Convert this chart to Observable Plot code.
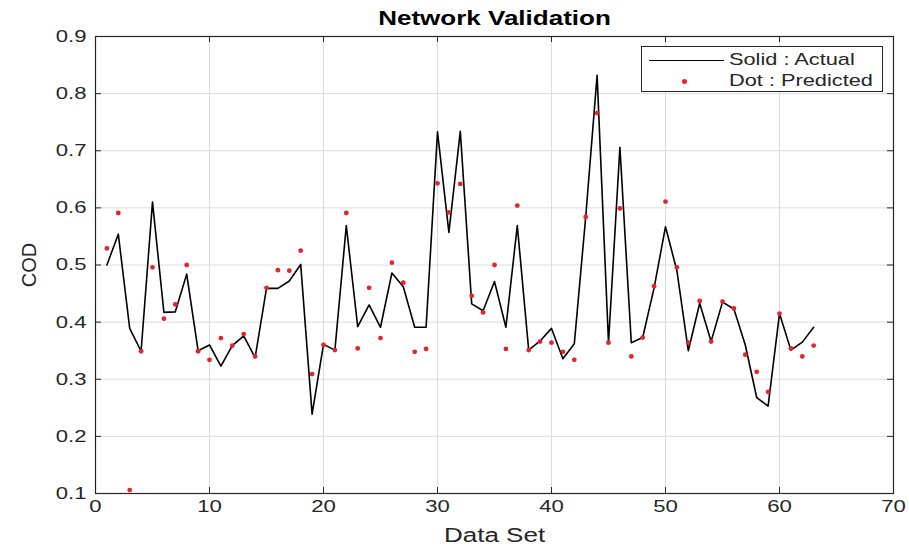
<!DOCTYPE html>
<html>
<head>
<meta charset="utf-8">
<script src="https://cdn.jsdelivr.net/npm/d3@7"></script>
<script src="https://cdn.jsdelivr.net/npm/@observablehq/plot@0.6"></script>
<style>
  html, body { margin: 0; padding: 0; background: #fff; }
  #wrap { position: relative; width: 909px; height: 548px; font-family: "Liberation Sans", Arial, sans-serif; color: #262626; }
  #legend { position: absolute; left: 641px; top: 46px; width: 240px; height: 44px; border: 1px solid #262626; background: #fff; }
  #legend .ln { position: absolute; left: 7px; top: 13px; width: 75px; border-top: 1.4px solid #000; }
  #legend .dt { position: absolute; left: 40px; top: 32px; width: 5px; height: 5px; border-radius: 50%; background: #e3242b; }
  #legend .tx { position: absolute; left: 87px; font-size: 17px; line-height: 20px; white-space: nowrap; color: #262626; transform: scaleX(1.28); transform-origin: left center; }
</style>
</head>
<body>
<div id="wrap"></div>
<script>
// ---- data ----
const dataSet = d3.range(1, 64);
const actual = [
  0.500, 0.554, 0.389, 0.349, 0.610, 0.417, 0.418, 0.484, 0.350, 0.360,
  0.323, 0.359, 0.376, 0.338, 0.459, 0.459, 0.472, 0.501, 0.239, 0.361,
  0.351, 0.569, 0.392, 0.430, 0.391, 0.486, 0.462, 0.391, 0.391, 0.733,
  0.557, 0.734, 0.432, 0.420, 0.471, 0.391, 0.569, 0.351, 0.367, 0.389,
  0.336, 0.362, 0.584, 0.832, 0.364, 0.706, 0.364, 0.373, 0.460, 0.567,
  0.490, 0.350, 0.433, 0.366, 0.435, 0.423, 0.360, 0.268, 0.253, 0.415,
  0.351, 0.365, 0.391
];
const predicted = [
  0.529, 0.591, 0.106, 0.349, 0.496, 0.406, 0.431, 0.500, 0.349, 0.334,
  0.372, 0.359, 0.379, 0.340, 0.460, 0.491, 0.490, 0.525, 0.309, 0.360,
  0.351, 0.591, 0.354, 0.460, 0.372, 0.504, 0.469, 0.348, 0.353, 0.643,
  0.592, 0.642, 0.446, 0.417, 0.500, 0.353, 0.604, 0.351, 0.366, 0.364,
  0.348, 0.334, 0.584, 0.766, 0.364, 0.599, 0.340, 0.373, 0.463, 0.611,
  0.496, 0.364, 0.437, 0.366, 0.436, 0.424, 0.343, 0.313, 0.278, 0.415,
  0.354, 0.340, 0.359
];
const xTicks = [0, 10, 20, 30, 40, 50, 60, 70];
const yTicks = [0.1, 0.2, 0.3, 0.4, 0.5, 0.6, 0.7, 0.8, 0.9];
const titleText = "Network Validation";
const xLabel = "Data Set";
const yLabel = "COD";
const legendLabels = ["Solid : Actual", "Dot : Predicted"];

const rows = dataSet.map((d, i) => ({set: d, actual: actual[i], predicted: predicted[i]}));

const W = 909, H = 548, mL = 95, mR = 16, mT = 36, mB = 55;
const fw = W - mL - mR, fh = H - mT - mB, tk = 6;
const axisColor = "#262626";
const stretch = 1.3; // the reference's text looks horizontally widened

const chart = Plot.plot({
  width: W, height: H,
  marginLeft: mL, marginRight: mR, marginTop: mT, marginBottom: mB,
  x: {domain: [0, 70]},
  y: {domain: [0.1, 0.9]},
  style: {fontFamily: '"Liberation Sans", Arial, sans-serif', fontSize: "17px", color: axisColor, background: "#fff", overflow: "visible"},
  marks: [
    Plot.gridX(xTicks, {stroke: "#dcdcdc", strokeOpacity: 1}),
    Plot.gridY(yTicks, {stroke: "#dcdcdc", strokeOpacity: 1}),
    Plot.axisX(xTicks, {tickSize: 0, tickPadding: 6, label: null, tickFormat: d => String(d), fill: axisColor}),
    Plot.axisY(yTicks, {tickSize: 0, tickPadding: 9, label: null, tickFormat: d3.format(".1f"), fill: axisColor}),
    // inward ticks on all four sides
    Plot.tickY(yTicks, {y: d => d, insetRight: fw - tk, stroke: axisColor}),
    Plot.tickY(yTicks, {y: d => d, insetLeft: fw - tk, stroke: axisColor}),
    Plot.tickX(xTicks, {x: d => d, insetTop: fh - tk, stroke: axisColor}),
    Plot.tickX(xTicks, {x: d => d, insetBottom: fh - tk, stroke: axisColor}),
    Plot.frame({stroke: axisColor, strokeWidth: 1.2}),
    Plot.line(rows, {x: "set", y: "actual", stroke: "#000", strokeWidth: 1.6}),
    Plot.dot(rows, {x: "set", y: "predicted", r: 2.4, fill: "#e3242b", stroke: null}),
    Plot.text([titleText], {frameAnchor: "top", lineAnchor: "middle", textAnchor: "middle", dy: -18, fontWeight: "bold", fontSize: 20, fill: "#000"}),
    Plot.text([xLabel], {frameAnchor: "bottom", lineAnchor: "middle", textAnchor: "middle", dy: 42, fontSize: 20, fill: axisColor}),
    Plot.text([yLabel], {frameAnchor: "left", lineAnchor: "middle", textAnchor: "middle", dx: -66, rotate: -90, fontSize: 20, fill: axisColor})
  ]
});

const wrap = document.getElementById("wrap");
wrap.appendChild(chart);

// widen horizontal text like the reference (glyph stretch, anchors kept)
d3.select(chart).selectAll("text").each(function() {
  if (this.textContent === yLabel) return;
  const len = this.getComputedTextLength();
  if (len > 0) {
    this.setAttribute("textLength", (len * stretch).toFixed(1));
    this.setAttribute("lengthAdjust", "spacingAndGlyphs");
  }
});

const lg = document.createElement("div");
lg.id = "legend";
lg.innerHTML = `<div class="ln"></div><div class="tx" style="top:3px">${legendLabels[0]}</div>` +
               `<div class="dt"></div><div class="tx" style="top:24px">${legendLabels[1]}</div>`;
wrap.appendChild(lg);
</script>
</body>
</html>
